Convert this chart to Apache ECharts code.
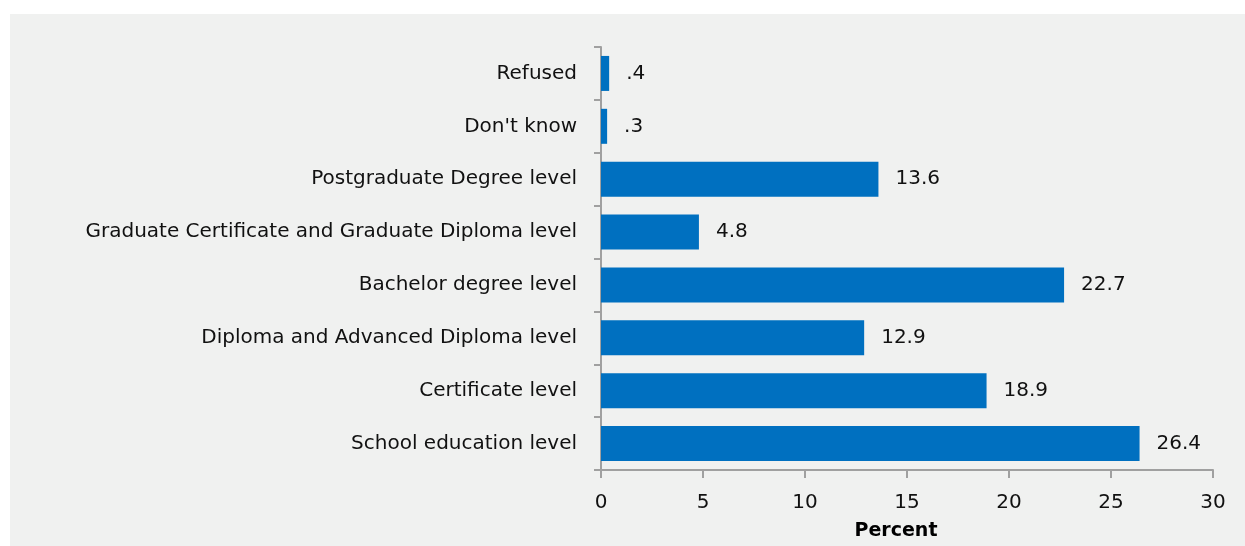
<!DOCTYPE html>
<html>
<head>
<meta charset="utf-8">
<script src="https://cdn.jsdelivr.net/npm/echarts@6/dist/echarts.min.js"></script>
<style>
  html, body { margin: 0; padding: 0; background: #ffffff; }
  #panel { position: absolute; left: 10px; top: 14px; width: 1235px; height: 532px; background: #f0f1f0; }
  #chart { position: absolute; left: 0; top: 0; width: 1245px; height: 546px; }
</style>
</head>
<body>
<div id="panel"></div>
<div id="chart"></div>
<script>
// Highest level of education attained (bottom to top)
const categories = [
  'School education level',
  'Certificate level',
  'Diploma and Advanced Diploma level',
  'Bachelor degree level',
  'Graduate Certificate and Graduate Diploma level',
  'Postgraduate Degree level',
  "Don't know",
  'Refused'
];
const percentValues = [26.4, 18.9, 12.9, 22.7, 4.8, 13.6, 0.3, 0.4];
const xTicks = [0, 5, 10, 15, 20, 25, 30];

const FONT = 'DejaVu Sans';
const chart = echarts.init(document.getElementById('chart'), null, { renderer: 'canvas' });

// Values under 1 are shown without the leading zero (".4")
const fmt = v => String(v).replace(/^0\./, '.');

chart.setOption({
  backgroundColor: 'transparent',
  animation: false,
  grid: { left: 601, right: 32, top: 47, bottom: 74, containLabel: false },
  xAxis: {
    type: 'value',
    min: xTicks[0],
    max: xTicks[xTicks.length - 1],
    interval: 5,
    name: 'Percent',
    nameLocation: 'middle',
    nameGap: 52,
    nameTextStyle: { fontFamily: FONT, fontSize: 19, fontWeight: 'bold', color: '#000', padding: [0, 22, 0, 0] },
    axisLine: { show: true, lineStyle: { color: '#a0a0a0', width: 2 } },
    axisTick: { show: true, inside: false, length: 8, lineStyle: { color: '#a0a0a0', width: 2 } },
    axisLabel: { fontFamily: FONT, fontSize: 20, color: '#111', margin: 23 },
    splitLine: { show: false }
  },
  yAxis: {
    type: 'category',
    data: categories,
    axisLine: { show: true, lineStyle: { color: '#a0a0a0', width: 2 } },
    axisTick: { show: true, inside: false, length: 7, alignWithLabel: false, lineStyle: { color: '#a0a0a0', width: 2 } },
    axisLabel: { fontFamily: FONT, fontSize: 20, color: '#111', margin: 24 },
    splitLine: { show: false }
  },
  series: [{
    type: 'bar',
    data: percentValues,
    barWidth: 35,
    itemStyle: { color: '#0070c0' },
    label: {
      show: true,
      position: 'right',
      distance: 17,
      fontFamily: FONT,
      fontSize: 20,
      color: '#111',
      formatter: p => fmt(p.value)
    }
  }]
});
</script>
</body>
</html>
